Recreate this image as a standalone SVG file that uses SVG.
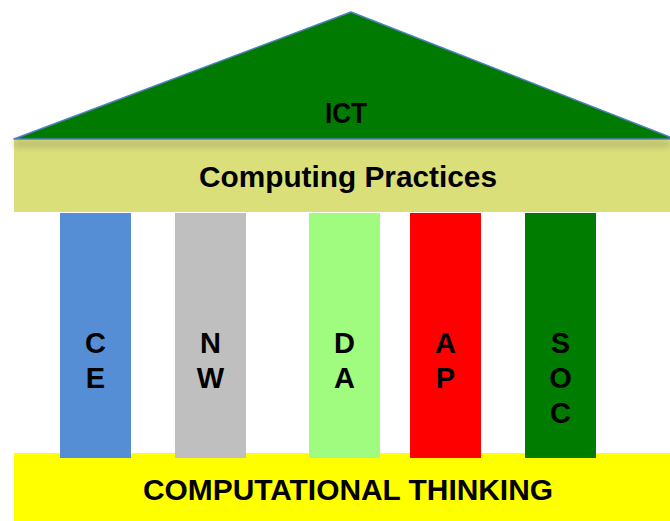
<svg xmlns="http://www.w3.org/2000/svg" width="670" height="521" viewBox="0 0 670 521">
  <style>
    .lbl { font-family: "Liberation Sans", Arial, sans-serif; font-weight: bold; fill: #000; text-anchor: middle; }
    .big { font-size: 29px; }
    .col { font-size: 29px; }
  </style>
  <defs>
    <filter id="soft" x="-5%" y="-200%" width="110%" height="500%">
      <feGaussianBlur stdDeviation="3"/>
    </filter>
  </defs>
  <rect width="670" height="521" fill="#ffffff"/>

  <!-- foundation -->
  <g id="base">
    <rect x="14" y="453" width="656" height="68" fill="#ffff00"/>
    <text class="lbl big" x="348" y="500" textLength="410" lengthAdjust="spacingAndGlyphs">COMPUTATIONAL THINKING</text>
  </g>

  <!-- beam under the roof -->
  <g id="practices">
    <rect x="14" y="139" width="656" height="73" fill="#dadf7a"/>
    <rect x="14" y="141" width="656" height="6" fill="#8a8a60" opacity="0.45" filter="url(#soft)"/>
    <text class="lbl big" x="348" y="187" textLength="298" lengthAdjust="spacingAndGlyphs">Computing Practices</text>
  </g>

  <!-- roof -->
  <g id="roof">
    <polygon points="14,139 351,12 670,137 670,139" fill="#007a00" stroke="#4f81bd" stroke-width="1.5" stroke-linejoin="round"/>
    <text class="lbl big" x="346" y="123" textLength="42" lengthAdjust="spacingAndGlyphs">ICT</text>
  </g>

  <!-- pillars -->
  <g id="pillar-ce">
    <rect x="60" y="213" width="71" height="245" fill="#558ed5"/>
    <text class="lbl col" x="95.5" y="353">C</text>
    <text class="lbl col" x="95.5" y="388">E</text>
  </g>
  <g id="pillar-nw">
    <rect x="175" y="213" width="71" height="245" fill="#bfbfbf"/>
    <text class="lbl col" x="210.5" y="353">N</text>
    <text class="lbl col" x="210.5" y="388">W</text>
  </g>
  <g id="pillar-da">
    <rect x="309" y="213" width="71" height="245" fill="#a0fc7e"/>
    <text class="lbl col" x="344.5" y="353">D</text>
    <text class="lbl col" x="344.5" y="388">A</text>
  </g>
  <g id="pillar-ap">
    <rect x="410" y="213" width="71" height="245" fill="#ff0000"/>
    <text class="lbl col" x="445.5" y="353">A</text>
    <text class="lbl col" x="445.5" y="388">P</text>
  </g>
  <g id="pillar-soc">
    <rect x="525" y="213" width="71" height="245" fill="#007d00"/>
    <text class="lbl col" x="560.5" y="353">S</text>
    <text class="lbl col" x="560.5" y="388">O</text>
    <text class="lbl col" x="560.5" y="423">C</text>
  </g>

  <g id="connectors"/>
</svg>
